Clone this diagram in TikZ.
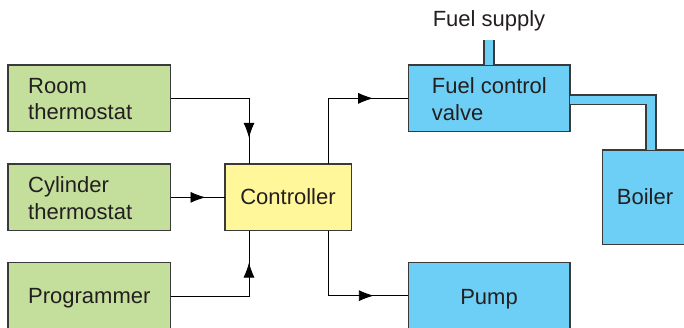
\documentclass[tikz,border=0pt]{standalone}
\usepackage{fontspec}
\setmainfont{Liberation Sans}
\usetikzlibrary{arrows.meta,decorations.markings,calc}
\definecolor{gfill}{HTML}{C4DF9B}
\definecolor{yfill}{HTML}{FFF799}
\definecolor{bfill}{HTML}{6DCFF6}
\definecolor{edge}{HTML}{3A3A3A}
\definecolor{txt}{HTML}{231F20}
\tikzset{
  box/.style={draw=edge, line width=1.1pt, inner sep=0pt, outer sep=0pt, anchor=north west},
  gbox/.style={box, fill=gfill},
  ybox/.style={box, fill=yfill},
  bbox/.style={box, fill=bfill},
  lbl/.style={font=\fontsize{22}{26.5}\selectfont, text=txt, inner sep=0pt, align=left},
  conn/.style={draw=black, line width=0.8pt},
  arrowat/.style={postaction={decorate}, decoration={markings, mark=at position #1 with {\arrow{Latex[length=15pt,width=11pt]}}}},
}
\begin{document}
\begin{tikzpicture}[x=1pt,y=-1pt]
\useasboundingbox (0,0) rectangle (684,328);
\fill[white] (0,0) rectangle (684,328);
% boxes
\node[gbox, minimum width=162.5pt, minimum height=66.7pt] (room) at (8,65) {};
\node[gbox, minimum width=162.5pt, minimum height=66.7pt] (cyl) at (8,164) {};
\node[gbox, minimum width=162.5pt, minimum height=66.7pt] (prog) at (8,262.7) {};
\node[ybox, minimum width=126.7pt, minimum height=66.7pt] (ctrl) at (225,164) {};
\node[bbox, minimum width=161.7pt, minimum height=66.7pt] (valve) at (408.3,65) {};
\node[bbox, minimum width=95pt, minimum height=94.3pt] (boiler) at (602.7,150) {};
\node[bbox, minimum width=161.7pt, minimum height=66.7pt] (pump) at (408.3,262.3) {};
% pipes
\coordinate (sup) at (484,40);
\fill[bfill] (sup) rectangle ($(valve.north west)+(85.7,0)$);
\draw[edge, line width=1.1pt] (sup) -- (484,65) (494,40) -- (494,65);
\coordinate (pa) at (570,95);
\fill[bfill] (pa) -- (656,95) -- (656,150) -- (646,150) -- (646,104.3) -- (570,104.3) -- cycle;
\draw[edge, line width=1.1pt] (pa) -- (656,95) -- (656,150) (570,104.3) -- (646,104.3) -- (646,150);
% labels
\node[lbl, anchor=west] (roomt) at (28,99) {Room\\thermostat};
\node[lbl, anchor=west] (cylt) at (28,198) {Cylinder\\thermostat};
\node[lbl, anchor=base west] (progt) at (28,303) {Programmer};
\node[lbl, anchor=base] (ctrlt) at (288,205) {Controller};
\node[lbl, anchor=west] (valvet) at (431.7,99) {Fuel control\\valve};
\node[lbl, anchor=base] (boilert) at (645,204.3) {Boiler};
\node[lbl, anchor=base] (pumpt) at (489,304) {Pump};
\node[lbl, anchor=base] (supt) at (489,26.7) {Fuel supply};
% connectors
\draw[conn, arrowat=118pt] (room.east) -| ([xshift=24pt]ctrl.north west);
\draw[conn, arrowat=35pt] (cyl.east) -- (ctrl.west);
\draw[conn, arrowat=112pt] (prog.east) -| ([xshift=24pt]ctrl.south west);
\draw[conn, arrowat=110.5pt] ([xshift=-23.4pt]ctrl.north east) |- (valve.west);
\draw[conn, arrowat=110.5pt] ([xshift=-23.4pt]ctrl.south east) |- (pump.west);
\end{tikzpicture}
\end{document}
